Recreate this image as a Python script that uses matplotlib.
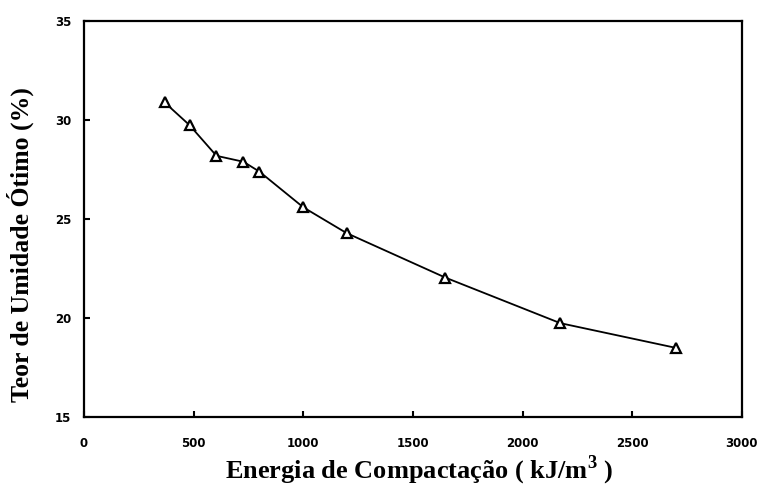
import matplotlib
matplotlib.use("Agg")
import matplotlib.pyplot as plt

plt.rcParams["mathtext.fontset"] = "custom"
plt.rcParams["mathtext.bf"] = "Liberation Serif:bold"
plt.rcParams["mathtext.rm"] = "Liberation Serif"

# compaction energy (kJ/m3) vs optimum moisture content (%)
energia = [367, 481, 604, 727, 800, 1000, 1197, 1648, 2172, 2700]
umidade = [30.9, 29.75, 28.2, 27.9, 27.4, 25.6, 24.3, 22.05, 19.75, 18.5]

x_ticks = [0, 500, 1000, 1500, 2000, 2500, 3000]
y_ticks = [15, 20, 25, 30, 35]

fig = plt.figure(figsize=(7.64, 4.92), dpi=100)
ax = fig.add_axes([0.110, 0.152, 0.861, 0.805])

ax.plot(energia, umidade, color="black", lw=1.3, marker="^", ms=6.5,
        mfc="white", mec="black", mew=1.6)

ax.set_xlim(0, 3000)
ax.set_ylim(15, 35)
ax.set_xticks(x_ticks)
ax.set_yticks(y_ticks)
ax.tick_params(direction="in", length=4, width=1.5, labelsize=8.5)
ax.tick_params(axis="x", pad=14)
ax.tick_params(axis="y", pad=9)
for lab in ax.get_xticklabels() + ax.get_yticklabels():
    lab.set_fontweight("heavy")
for s in ax.spines.values():
    s.set_linewidth(1.6)

serif = ["Liberation Serif", "DejaVu Serif"]
ax.set_ylabel("Teor de Umidade Ótimo (%)", family=serif, fontweight="bold",
              fontsize=18.5, labelpad=15)
ax.set_xlabel(r"Energia de Compactação ( kJ/m$^{\mathbf{3}}$ )", family=serif,
              fontweight="bold", fontsize=19, labelpad=3)
ax.yaxis.label.set_y(0.435)
ax.xaxis.label.set_x(0.51)

fig.savefig("out.png", dpi=100)
